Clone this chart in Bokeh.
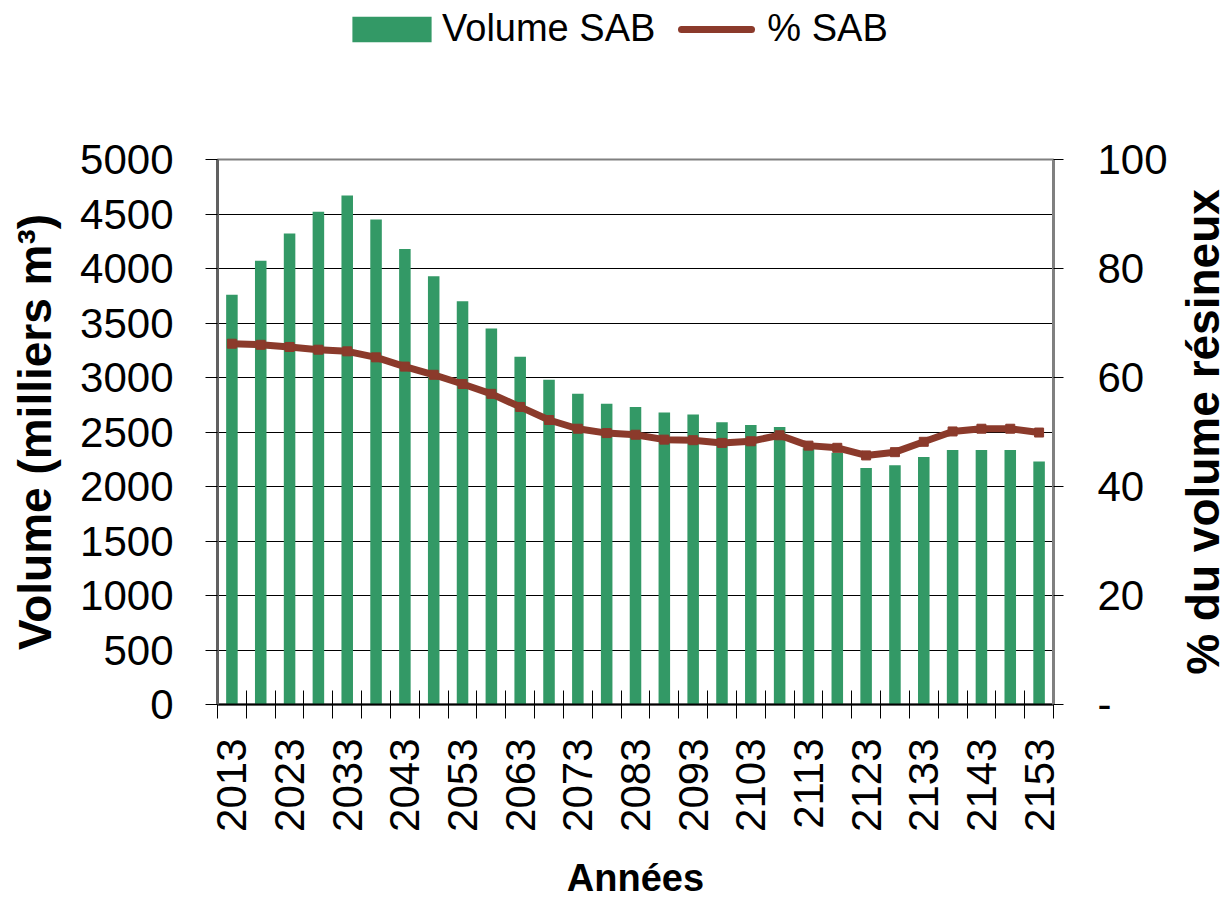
import math
from bokeh.plotting import figure
from bokeh.layouts import column, row
from bokeh.models import (Range1d, LinearAxis, FixedTicker, Legend, LegendItem,
                          ColumnDataSource)
from bokeh.core.properties import value
from bokeh.embed import file_html
from bokeh.resources import INLINE

# ---------------- data ----------------
years = [2013, 2018, 2023, 2028, 2033, 2038, 2043, 2048, 2053, 2058,
         2063, 2068, 2073, 2078, 2083, 2088, 2093, 2098, 2103, 2108,
         2113, 2118, 2123, 2128, 2133, 2138, 2143, 2148, 2153]
volume_sab = [3760, 4070, 4320, 4520, 4670, 4450, 4180, 3930, 3700, 3450,
              3190, 2980, 2850, 2760, 2730, 2680, 2660, 2590, 2565, 2545,
              2350, 2310, 2170, 2195, 2270, 2335, 2335, 2335, 2230]
pct_sab = [66.2, 66.0, 65.6, 65.1, 64.8, 63.7, 62.0, 60.5, 58.8, 57.0,
           54.6, 52.2, 50.6, 49.8, 49.5, 48.6, 48.5, 48.0, 48.3, 49.4,
           47.5, 47.1, 45.7, 46.3, 48.2, 50.1, 50.6, 50.6, 49.9]
y_left_ticks = [0, 500, 1000, 1500, 2000, 2500, 3000, 3500, 4000, 4500, 5000]
y_right_ticks = [0, 20, 40, 60, 80, 100]
series_names = ["Volume SAB", "% SAB"]
x_title = "Années"
y_left_title = "Volume (milliers m³)"
y_right_title = "% du volume résineux"

FONT = "Liberation Sans"
GREEN = "#339966"
RED = "#8B3A2B"

n = len(years)
pos = [i + 0.5 for i in range(n)]
src = ColumnDataSource(dict(x=pos, year=years, vol=volume_sab, pct=pct_sab))

# ---------------- main chart ----------------
p = figure(width=1176, height=844, output_backend="svg", toolbar_location=None,
           x_range=Range1d(0, n), y_range=Range1d(0, 5000),
           min_border_left=217, min_border_right=123,
           min_border_top=99, min_border_bottom=200,
           background_fill_color="white", border_fill_color="white")
p.outline_line_color = "#808080"
p.outline_line_width = 2

p.extra_y_ranges = {"pct": Range1d(0, 100)}

bars = p.vbar(x="x", top="vol", width=0.4, source=src, fill_color=GREEN,
              line_color=None)
line = p.line(x="x", y="pct", source=src, y_range_name="pct", line_color=RED,
              line_width=7, line_cap="round", line_join="round")
p.scatter(x="x", y="pct", source=src, y_range_name="pct", marker="square",
          size=9, fill_color=RED, line_color=RED)

# x axis
xa = p.xaxis[0]
major = [pos[i] for i in range(0, n, 2)]
xa.ticker = FixedTicker(ticks=major, minor_ticks=list(range(n + 1)))
xa.major_label_overrides = {pos[i]: str(years[i]) for i in range(0, n, 2)}
xa.major_label_orientation = math.pi / 2
xa.major_tick_line_color = None
xa.major_tick_out = 14
xa.major_tick_in = 0
xa.minor_tick_in = 14
xa.minor_tick_out = 14
xa.minor_tick_line_color = "black"
xa.minor_tick_line_width = 1
xa.axis_line_color = "black"
xa.axis_line_width = 2
xa.major_label_text_font = FONT
xa.major_label_text_font_size = "42px"
xa.major_label_text_color = "black"
xa.major_label_standoff = 20
xa.axis_label = x_title
xa.axis_label_text_font = FONT
xa.axis_label_text_font_size = "38px"
xa.axis_label_text_font_style = "bold"
xa.axis_label_text_color = "black"
xa.axis_label_standoff = 22

# left axis
ya = p.yaxis[0]
ya.ticker = FixedTicker(ticks=y_left_ticks)
ya.major_tick_out = 12
ya.major_tick_in = 0
ya.major_tick_line_color = "black"
ya.minor_tick_line_color = None
ya.axis_line_color = "#606060"
ya.axis_line_width = 3
ya.major_label_text_font = FONT
ya.major_label_text_font_size = "42px"
ya.major_label_text_color = "black"
ya.major_label_standoff = 32
ya.axis_label = y_left_title
ya.axis_label_text_font = FONT
ya.axis_label_text_font_size = "46px"
ya.axis_label_text_font_style = "bold"
ya.axis_label_text_color = "black"
ya.axis_label_standoff = 16

# right axis (ticks + labels)
yr = LinearAxis(y_range_name="pct", ticker=FixedTicker(ticks=y_right_ticks))
yr.major_label_overrides = {0: "-"}
yr.major_tick_out = 10
yr.major_tick_in = 0
yr.major_tick_line_color = "black"
yr.minor_tick_line_color = None
yr.axis_line_color = "#808080"
yr.axis_line_width = 3
yr.major_label_text_font = FONT
yr.major_label_text_font_size = "42px"
yr.major_label_text_color = "black"
yr.major_label_standoff = 34
p.add_layout(yr, "right")

# grid
p.xgrid.visible = False
p.ygrid.ticker = FixedTicker(ticks=y_left_ticks)
p.ygrid.grid_line_color = "black"
p.ygrid.grid_line_width = 1

# ---------------- right title strip ----------------
rf = figure(width=52, height=844, output_backend="svg", toolbar_location=None,
            x_range=Range1d(0, 1), y_range=Range1d(0, 100),
            x_axis_type=None, y_axis_type=None,
            min_border_left=0, min_border_right=0,
            min_border_top=99, min_border_bottom=200,
            background_fill_color="white", border_fill_color="white")
rf.outline_line_color = None
rf.grid.visible = False
rf.text(x=[(rf.x_range.start + rf.x_range.end) / 2],
        y=[(rf.y_range.start + rf.y_range.end) / 2],
        text=[y_right_title], angle=math.pi / 2,
        text_align="center", text_baseline="middle",
        text_font=value(FONT), text_font_size="46px",
        text_font_style="bold", text_color="black")

# ---------------- legend strip ----------------
lf = figure(width=1228, height=60, output_backend="svg", toolbar_location=None,
            x_range=Range1d(0, n), y_range=Range1d(0, 5000),
            x_axis_type=None, y_axis_type=None,
            min_border_left=217, min_border_right=175,
            min_border_top=0, min_border_bottom=0,
            background_fill_color="white", border_fill_color="white")
lf.outline_line_color = None
lf.grid.visible = False
# hidden legend proxies (same data), only used for the legend swatches
lb = lf.vbar(x="x", top="vol", width=0.4, source=src, fill_color=GREEN,
             line_color=None, visible=False)
ll = lf.line(x="x", y="vol", source=src, line_color=RED, line_width=7,
             line_cap="round", line_dash="70 29", line_dash_offset=85,
             visible=False)
legend = Legend(items=[LegendItem(label=series_names[0], renderers=[lb]),
                       LegendItem(label=series_names[1], renderers=[ll])],
                orientation="horizontal", location=(125, 10),
                glyph_width=99, glyph_height=32, label_standoff=1,
                spacing=12, padding=0, margin=0, border_line_color=None,
                background_fill_alpha=0, inactive_fill_alpha=0,
                label_text_font=FONT, label_text_font_size="38px",
                label_text_color="black")
lf.add_layout(legend, "center")

layout = column(lf, row(p, rf, spacing=0), spacing=0)
open("out.html", "w").write(file_html(layout, INLINE))
